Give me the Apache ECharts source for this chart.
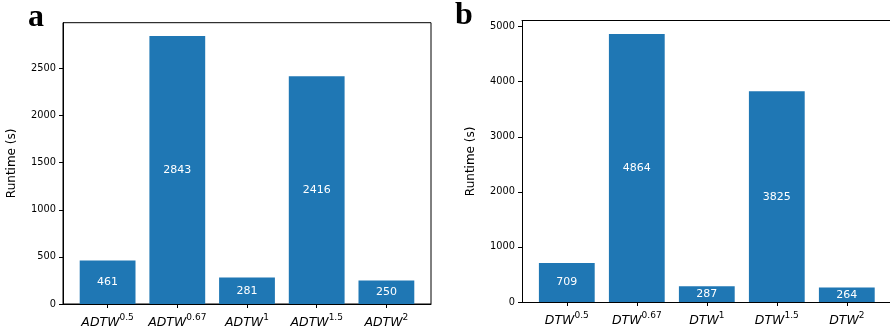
<!DOCTYPE html>
<html>
<head>
<meta charset="utf-8">
<script src="https://cdn.jsdelivr.net/npm/echarts@6/dist/echarts.min.js"></script>
<style>
html,body{margin:0;padding:0;background:#fff;}
#chart{width:890px;height:333px;}
</style>
</head>
<body>
<div id="chart"></div>
<script>
// ---- data ----
const baseA = ['ADTW', 'ADTW', 'ADTW', 'ADTW', 'ADTW'];
const baseB = ['DTW', 'DTW', 'DTW', 'DTW', 'DTW'];
const exponents = ['0.5', '0.67', '1', '1.5', '2'];
const valuesA = [461, 2843, 281, 2416, 250];
const valuesB = [709, 4864, 287, 3825, 264];
const yTicksA = [0, 500, 1000, 1500, 2000, 2500];
const yTicksB = [0, 1000, 2000, 3000, 4000, 5000];
const panelLetters = ['a', 'b'];
const yName = 'Runtime (s)';

// ---- chart ----
const FONT = 'DejaVu Sans';
const BLUE = '#1f77b4';
const positions = valuesA.map((_, i) => i);

function xAxisFor(gridIndex, bases, xmax) {
  return {
    type: 'value', gridIndex: gridIndex,
    min: -0.64, max: xmax,
    splitLine: { show: false },
    axisLine: { show: true, onZero: false, lineStyle: { color: '#000', width: 1 } },
    axisTick: { show: true, length: 4, customValues: positions, lineStyle: { color: '#000' } },
    axisLabel: {
      customValues: positions,
      margin: 9,
      formatter: v => '{m|' + bases[Math.round(v)] + '}{s|' + exponents[Math.round(v)] + '}',
      rich: {
        m: { fontFamily: FONT, fontStyle: 'italic', fontSize: 12.5, color: '#000', lineHeight: 16, verticalAlign: 'bottom' },
        s: { fontFamily: FONT, fontSize: 9, color: '#000', lineHeight: 11, verticalAlign: 'top' }
      }
    }
  };
}
function yAxisFor(gridIndex, maxV, ticks) {
  return {
    type: 'value', gridIndex: gridIndex,
    min: 0, max: maxV,
    name: yName, nameLocation: 'middle', nameGap: 45,
    nameTextStyle: { fontFamily: FONT, fontSize: 12, color: '#000' },
    splitLine: { show: false },
    axisLine: { show: true, onZero: false, lineStyle: { color: '#000', width: 1 } },
    axisTick: { show: true, length: 4, customValues: ticks, lineStyle: { color: '#000' } },
    axisLabel: { customValues: ticks, margin: 7, fontFamily: FONT, fontSize: 9.8, color: '#000', formatter: v => String(v) }
  };
}
function seriesFor(idx, vals) {
  return {
    type: 'bar', xAxisIndex: idx, yAxisIndex: idx,
    data: vals.map((v, i) => [positions[i], v]),
    barWidth: 55.8,
    itemStyle: { color: BLUE },
    label: { show: true, position: 'inside', color: '#fff', fontFamily: FONT, fontSize: 11, formatter: p => String(p.value[1]) },
    silent: true
  };
}

const topFrame = {
  type: 'value', gridIndex: 1, position: 'top', min: 0, max: 1,
  splitLine: { show: false }, axisTick: { show: false }, axisLabel: { show: false },
  axisLine: { show: true, onZero: false, lineStyle: { color: '#000', width: 1 } }
};

const chart = echarts.init(document.getElementById('chart'), null, { renderer: 'canvas' });
chart.setOption({
  animation: false,
  backgroundColor: '#fff',
  grid: [
    { left: 63, top: 22.7, width: 368, height: 281.3, show: true, borderColor: '#000', borderWidth: 1, backgroundColor: 'transparent' },
    { left: 522, top: 20.7, right: 0, height: 281.3, show: false }
  ],
  xAxis: [xAxisFor(0, baseA, 4.64), xAxisFor(1, baseB, 4.617), topFrame],
  yAxis: [yAxisFor(0, valuesA.reduce((a, b) => Math.max(a, b)) * 1.05, yTicksA),
          yAxisFor(1, valuesB.reduce((a, b) => Math.max(a, b)) * 1.05, yTicksB)],
  series: [seriesFor(0, valuesA), seriesFor(1, valuesB)],
  graphic: [
    { type: 'text', left: 28, top: 2, style: { text: panelLetters[0], font: 'bold 32px "Liberation Serif"', fill: '#000' } },
    { type: 'text', left: 455, top: 0, style: { text: panelLetters[1], font: 'bold 32px "Liberation Serif"', fill: '#000' } }
  ]
});
</script>
</body>
</html>
